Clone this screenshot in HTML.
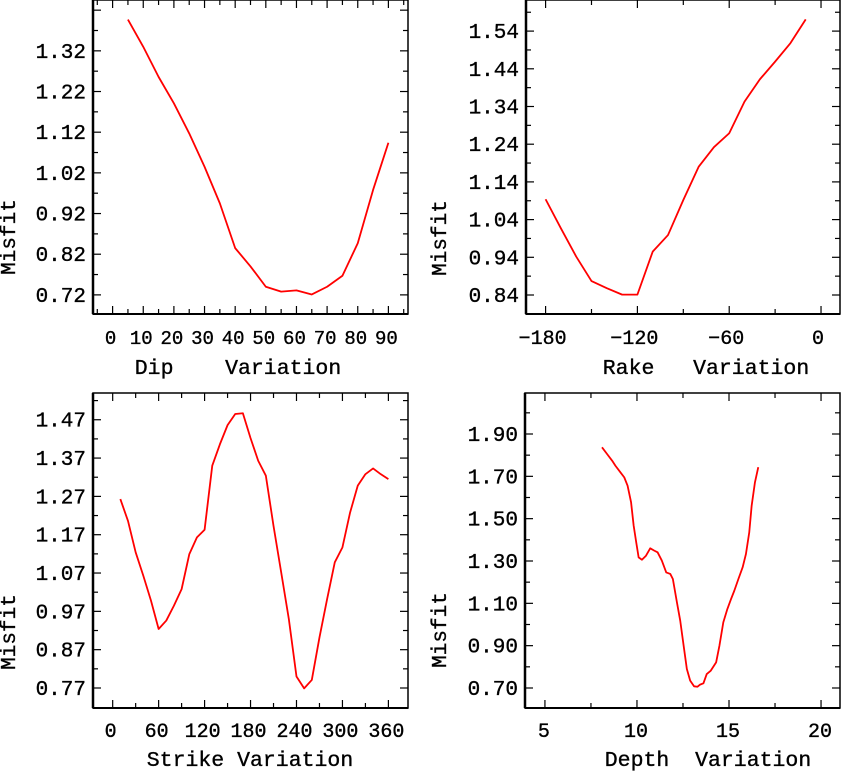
<!DOCTYPE html>
<html><head><meta charset="utf-8"><style>
html,body{margin:0;padding:0;background:#fff;}
svg{display:block;}
text{font-family:"Liberation Mono",monospace;fill:#000;stroke:#000;stroke-width:0.35;white-space:pre;}
</style></head><body>
<svg id="fig" width="842" height="772" viewBox="0 0 842 772" xmlns="http://www.w3.org/2000/svg"></svg>
<script>
// ---- Panel data ----
const dipX = [5,10,15,20,25,30,35,40,45,50,55,60,65,70,75,80,85,90];
const dipY = [1.397,1.330,1.256,1.191,1.117,1.035,0.945,0.835,0.790,0.740,0.728,0.731,0.721,0.740,0.767,0.847,0.978,1.094];
const dipXTicks = [0,10,20,30,40,50,60,70,80,90];
const dipYTicks = ["0.72","0.82","0.92","1.02","1.12","1.22","1.32"];

const rakeX = [-180,-170,-160,-150,-140,-130,-120,-110,-100,-90,-80,-70,-60,-50,-40,-30,-20,-10];
const rakeY = [1.094,1.017,0.942,0.877,0.858,0.841,0.841,0.955,0.999,1.092,1.180,1.232,1.269,1.353,1.412,1.459,1.508,1.571];
const rakeXTicks = [-180,-120,-60,0];
const rakeYTicks = ["0.84","0.94","1.04","1.14","1.24","1.34","1.44","1.54"];

const strikeX = [10,20,30,40,50,60,70,80,90,100,110,120,130,140,150,160,170,180,190,200,210,220,230,240,250,260,270,280,290,300,310,320,330,340,350,360];
const strikeY = [1.263,1.206,1.124,1.063,0.998,0.924,0.946,0.985,1.028,1.119,1.163,1.183,1.350,1.406,1.456,1.485,1.487,1.422,1.363,1.324,1.193,1.072,0.950,0.800,0.769,0.791,0.902,1.002,1.098,1.137,1.228,1.298,1.328,1.343,1.328,1.315];
const strikeXTicks = [0,60,120,180,240,300,360];
const strikeYTicks = ["0.77","0.87","0.97","1.07","1.17","1.27","1.37","1.47"];

const depthX = [8.10,8.38,8.65,8.83,9.10,9.31,9.49,9.68,9.82,9.96,10.09,10.27,10.49,10.72,10.94,11.12,11.35,11.59,11.81,11.95,12.17,12.35,12.56,12.71,12.89,13.10,13.29,13.43,13.61,13.79,14.01,14.30,14.48,14.69,14.91,15.11,15.29,15.51,15.74,15.92,16.10,16.23,16.41,16.59];
const depthY = [1.837,1.805,1.774,1.750,1.719,1.695,1.656,1.577,1.467,1.388,1.317,1.306,1.325,1.360,1.349,1.341,1.302,1.246,1.239,1.215,1.105,1.018,0.884,0.790,0.735,0.708,0.706,0.716,0.722,0.766,0.782,0.821,0.900,1.010,1.073,1.120,1.160,1.215,1.270,1.333,1.435,1.561,1.672,1.743];
const depthXTicks = [5,10,15,20];
const depthYTicks = ["0.70","0.90","1.10","1.30","1.50","1.70","1.90"];

const NS = "http://www.w3.org/2000/svg";
const svg = document.getElementById("fig");
function mk(tag, attrs, parent){
  const e = document.createElementNS(NS, tag);
  for (const k in attrs) e.setAttribute(k, attrs[k]);
  (parent||svg).appendChild(e);
  return e;
}

function panel(cfg){
  const g = mk("g", {});
  
  
  const L=cfg.box[0], T=cfg.box[1], R=cfg.box[2], B=cfg.box[3];
  const sx = v => L + (v - cfg.xr[0]) / (cfg.xr[1]-cfg.xr[0]) * (R-L);
  const sy = v => B - (v - cfg.yr[0]) / (cfg.yr[1]-cfg.yr[0]) * (B-T);
  const frame = mk("rect", {x:L, y:T, width:R-L, height:B-T, fill:"none", stroke:"#000", "stroke-width":1.5}, g);
  
  
  mk("line",{x1:L,y1:T,x2:L,y2:B,stroke:"#000","stroke-width":2.5},g);
  mk("line",{x1:L,y1:B,x2:R,y2:B,stroke:"#000","stroke-width":2},g);
  const xt = cfg.xTicks;
  const step = xt[1]-xt[0];
  for (let v = xt[0]-step/2; v <= xt[xt.length-1]+step/2+1e-9; v += step/2){
    const px = sx(v); if (px < L+1 || px > R-1) continue;
    const major = Math.abs(((v - xt[0]) / step) - Math.round((v - xt[0]) / step)) < 1e-6;
    const len = major ? 8 : 5;
    mk("line",{x1:px,y1:B,x2:px,y2:B-len,stroke:"#000","stroke-width":1.2},g);
    mk("line",{x1:px,y1:T,x2:px,y2:T+len,stroke:"#000","stroke-width":1.2},g);
  }
  xt.forEach(v=>{
    const t = mk("text",{x:sx(v)+cfg.xLabOff, y:cfg.xLabY, "font-size":cfg.xFont||20, "text-anchor":"middle"}, g);
    t.textContent = (v<0? "\u2212"+(-v) : String(v));
    
    
  });
  const yv = cfg.yTicks.map(Number);
  const ys = yv[1]-yv[0];
  for (let v = yv[0]-ys; v <= yv[yv.length-1]+ys+1e-9; v += ys/2){
    const py = sy(v); if (py < T+1 || py > B-1) continue;
    const major = Math.abs(((v - yv[0]) / ys) - Math.round((v - yv[0]) / ys)) < 1e-6;
    const len = major ? 8 : 5;
    mk("line",{x1:L,y1:py,x2:L+len,y2:py,stroke:"#000","stroke-width":1.2},g);
    mk("line",{x1:R,y1:py,x2:R-len,y2:py,stroke:"#000","stroke-width":1.2},g);
  }
  cfg.yTicks.forEach(s=>{
    const t = mk("text",{x:L-7, y:sy(Number(s))+7, "font-size":21, "text-anchor":"end"}, g);
    t.textContent = s;
    
    
  });
  const d = cfg.xs.map((x,i)=>(i?"L":"M")+sx(x).toFixed(2)+","+sy(cfg.ys[i]).toFixed(2)).join(" ");
  const p = mk("path",{d:d, fill:"none", stroke:"#ff0000", "stroke-width":1.8, "stroke-linejoin":"round"}, g);
  
  
  const xt2 = mk("text",{x:cfg.titleX, y:cfg.titleY, "font-size":21.5, "text-anchor":"middle"}, g);
  xt2.textContent = cfg.title;
  
  
  const yt = mk("text",{x:0, y:0, "font-size":21, "text-anchor":"middle", transform:"translate("+(cfg.misX)+","+cfg.misY+") rotate(-90)"}, g);
  yt.textContent = "Misfit";
  
  
}

panel({name:"dip-panel", box:[93,0,408,314], xr:[-6.4,96.4], yr:[0.673,1.445],
  xTicks:dipXTicks, yTicks:dipYTicks, xs:dipX, ys:dipY, xLabOff:-2, xLabY:344, xFont:19,
  title:"Dip    Variation", titleX:238, titleY:374, misX:15, misY:237});
panel({name:"rake-panel", box:[526,0,840,314], xr:[-192.8,12.4], yr:[0.7896,1.6225],
  xTicks:rakeXTicks, yTicks:rakeYTicks, xs:rakeX, ys:rakeY, xLabOff:-3, xLabY:344,
  title:"Rake   Variation", titleX:706, titleY:374, misX:446, misY:238});
panel({name:"strike-panel", box:[93,393,408,708], xr:[-25.7,385.6], yr:[0.7178,1.5398],
  xTicks:strikeXTicks, yTicks:strikeYTicks, xs:strikeX, ys:strikeY, xLabOff:-2, xLabY:737,
  title:"Strike Variation", titleX:250, titleY:766, misX:15, misY:632});
panel({name:"depth-panel", box:[525,393,840,708], xr:[3.917,21.03], yr:[0.6055,2.0937],
  xTicks:depthXTicks, yTicks:depthYTicks, xs:depthX, ys:depthY, xLabOff:-1, xLabY:737,
  title:"Depth  Variation", titleX:708, titleY:766, misX:446, misY:630});
</script>
</body></html>
